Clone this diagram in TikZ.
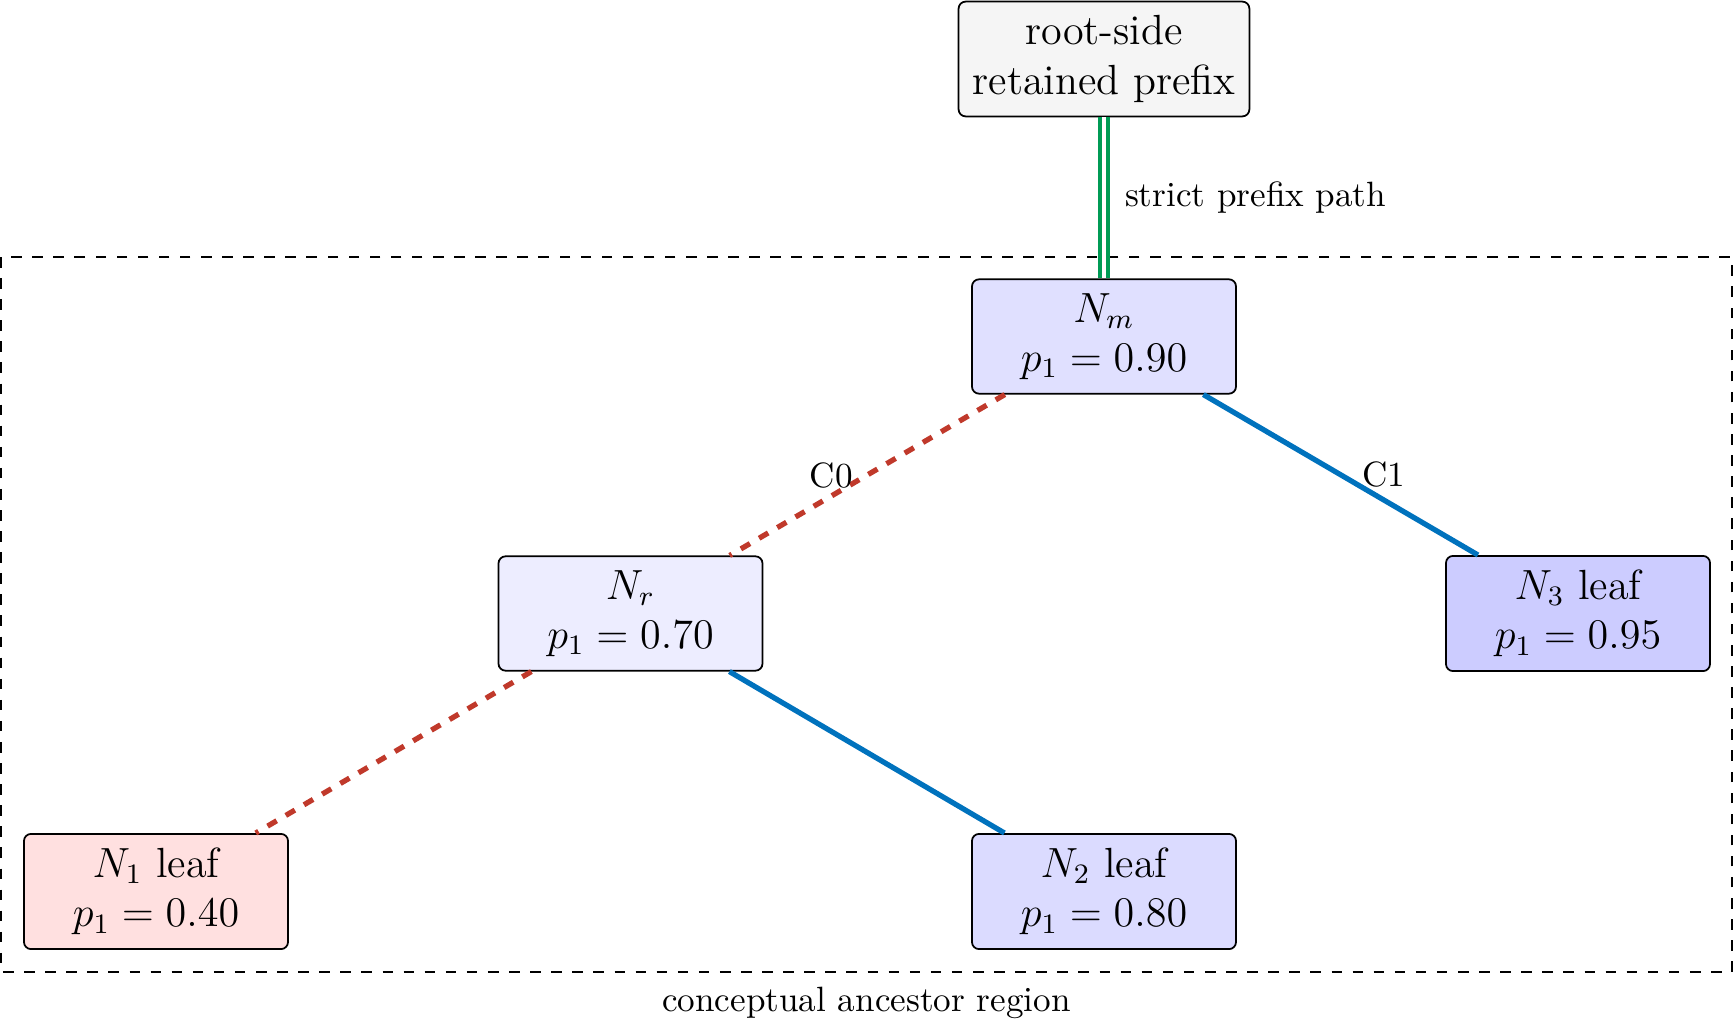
\documentclass[tikz,border=0pt]{standalone}
\usepackage{amsmath}
\usepackage{tikz}

\definecolor{czero}{RGB}{192,57,43}
\definecolor{cone}{RGB}{0,114,189}
\definecolor{cpath}{RGB}{0,155,85}

\tikzset{
  treenode/.style={draw, rounded corners=2pt, line width=0.5pt, align=center,
    font=\large, minimum width=2.64cm, inner sep=4pt},
  zeroedge/.style={draw=czero, line width=1.5pt, dashed},
  oneedge/.style={draw=cone, line width=1.5pt},
  prefixedge/.style={draw=cpath, line width=1.3pt, double=white, double distance=0.9pt},
}

\begin{document}
\begin{tikzpicture}
    \useasboundingbox (0,0) rectangle (17.34,-10.19);

    \node[treenode, fill=black!4] (root) at (11.04,-0.59) {root-side\\retained prefix};
    \node[treenode, fill=blue!12] (Nm) at (11.04,-3.365) {$N_m$\\$p_1 = 0.90$};
    \node[treenode, fill=blue!7] (Nr) at (6.305,-6.135) {$N_r$\\$p_1 = 0.70$};
    \node[treenode, fill=blue!20] (N3) at (15.78,-6.135) {$N_3$ leaf\\$p_1 = 0.95$};
    \node[treenode, fill=red!12] (N1) at (1.56,-8.915) {$N_1$ leaf\\$p_1 = 0.40$};
    \node[treenode, fill=blue!14] (N2) at (11.04,-8.915) {$N_2$ leaf\\$p_1 = 0.80$};

    \draw[semithick, dashed] (0.01,-2.57) rectangle (17.32,-9.72);
    \node[anchor=north] (region) at (8.665,-9.75) {conceptual ancestor region};

    \draw[prefixedge] (root) -- node[right, black, xshift=2pt] {strict prefix path} (Nm);
    \draw[zeroedge] (Nm) -- node[left, black] {C0} (Nr);
    \draw[oneedge] (Nm) -- node[right, black, xshift=2pt] {C1} (N3);
    \draw[zeroedge] (Nr) -- (N1);
    \draw[oneedge] (Nr) -- (N2);
\end{tikzpicture}
\end{document}
